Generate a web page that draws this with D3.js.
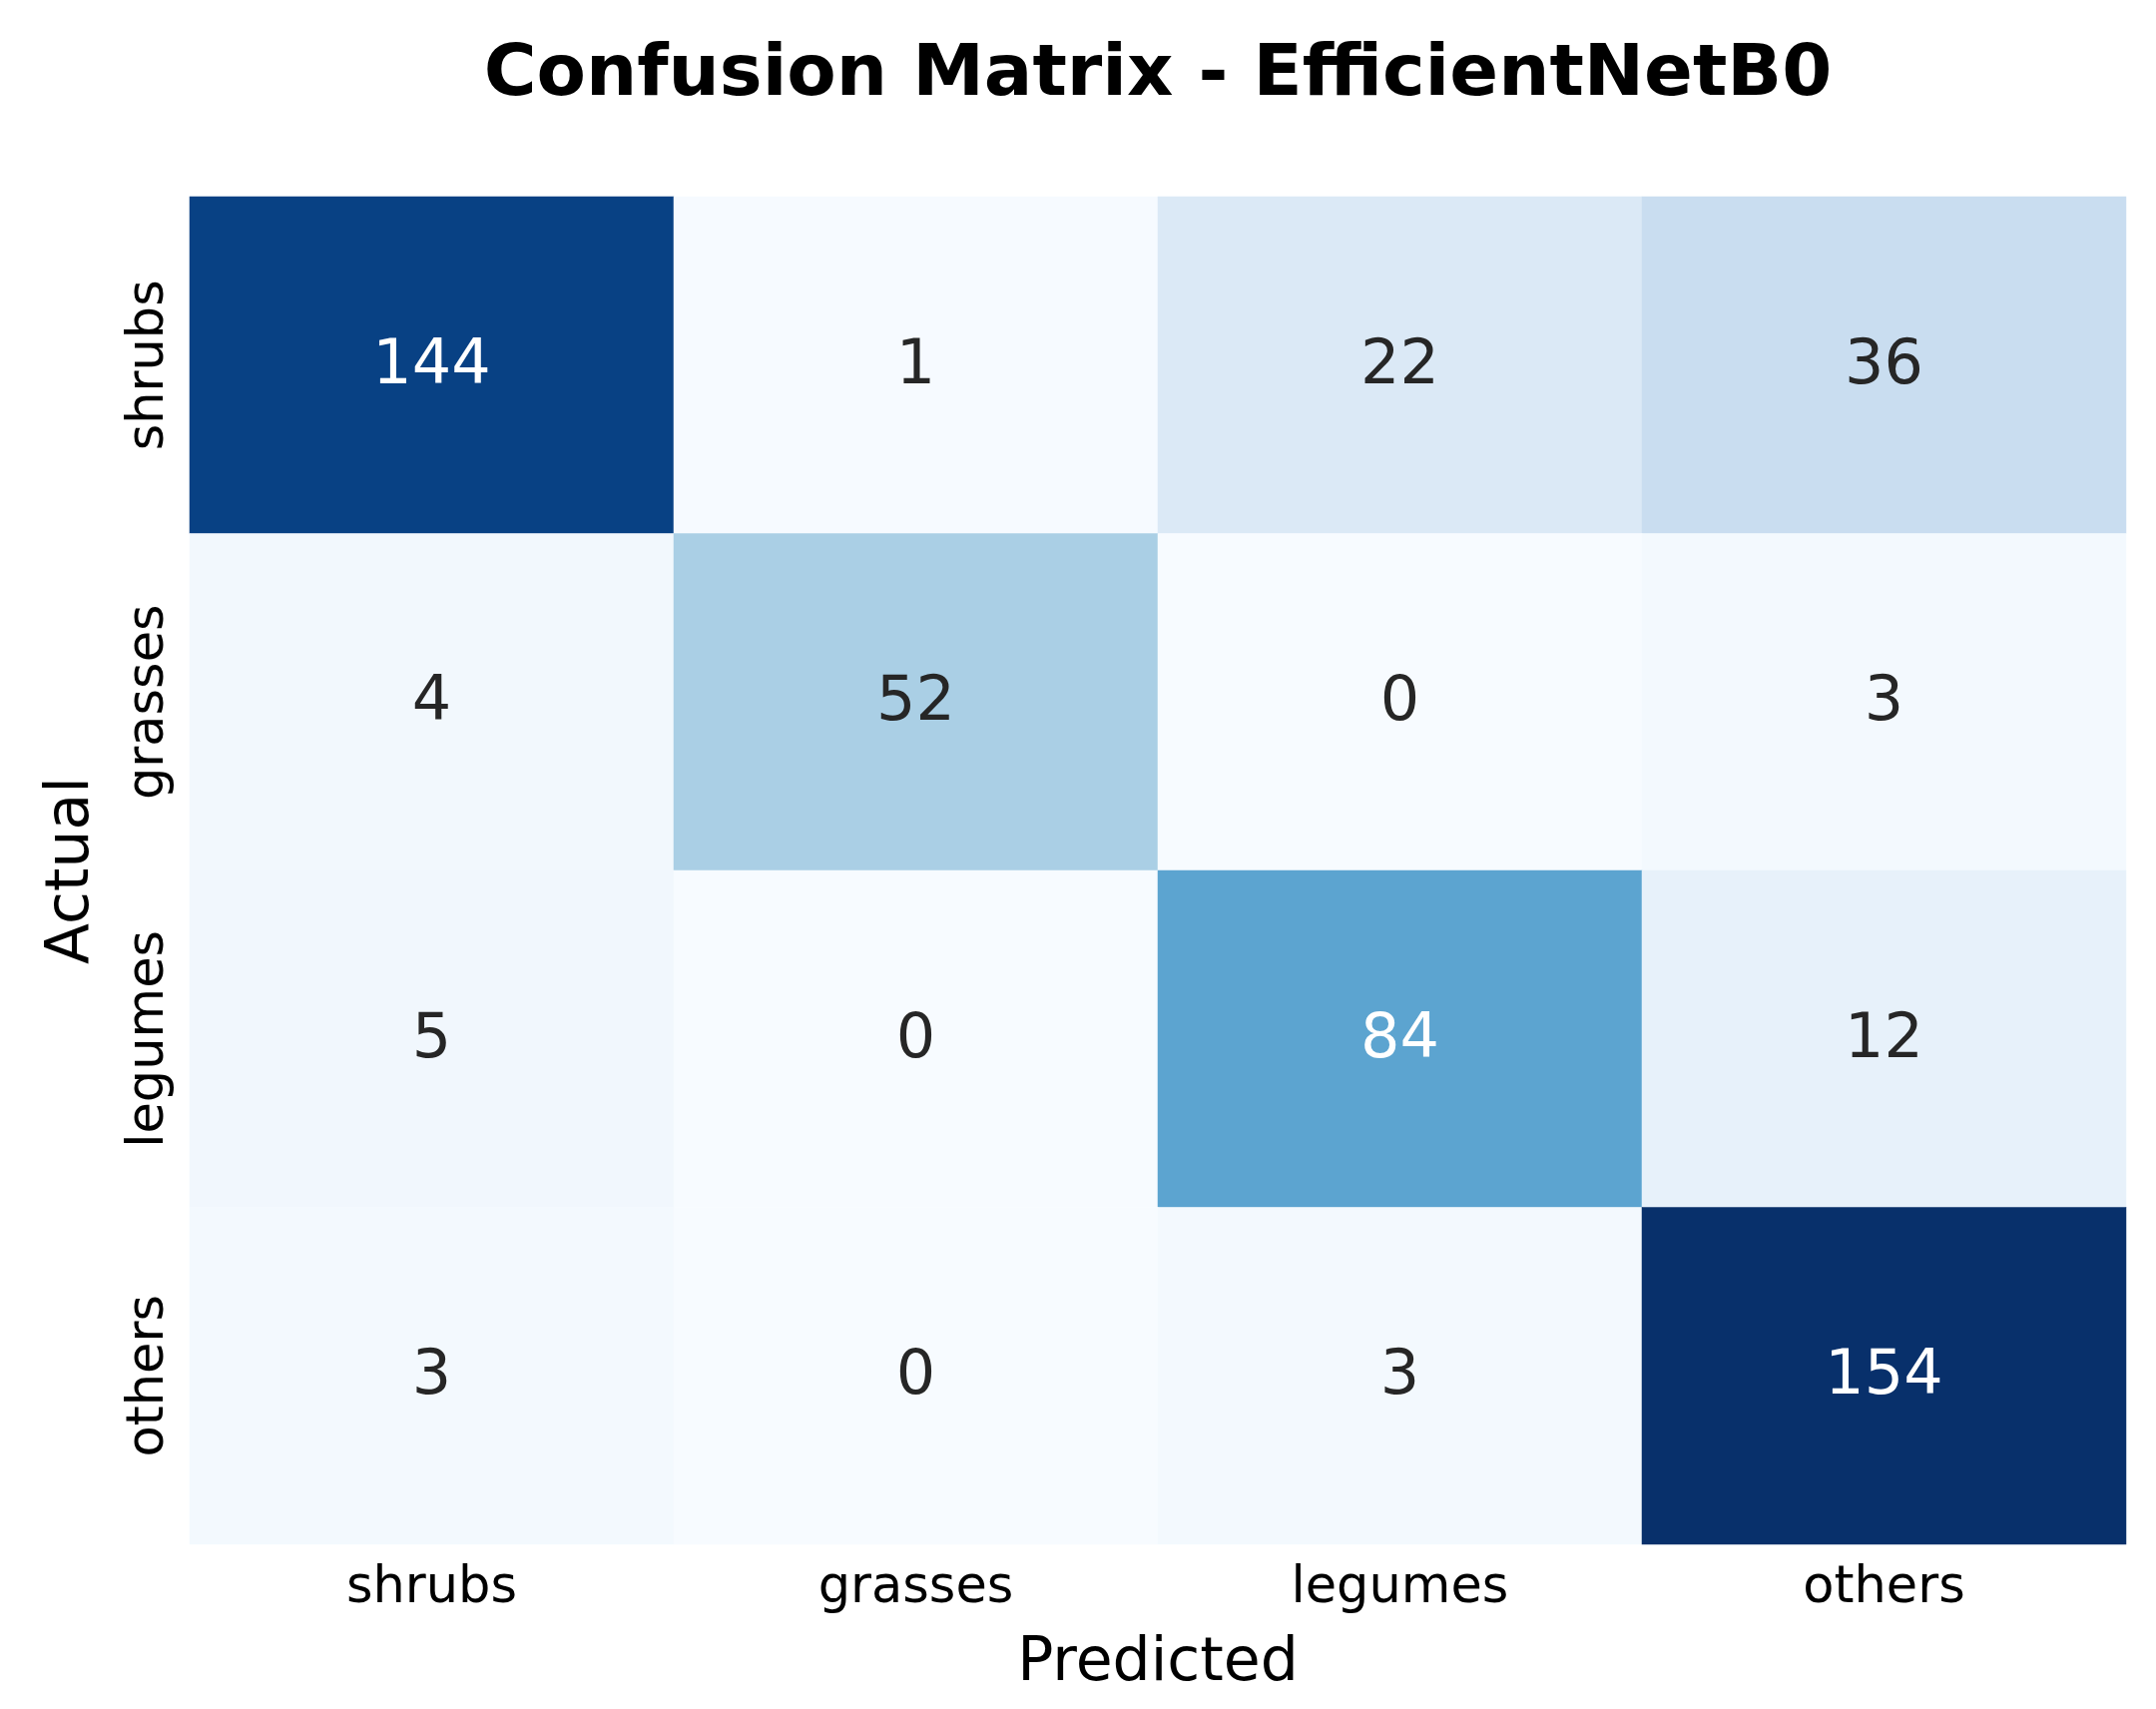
<!DOCTYPE html>
<html>
<head>
<meta charset="utf-8">
<script src="https://cdn.jsdelivr.net/npm/d3@7"></script>
<style>
  body { margin: 0; background: #fff; }
  text { font-family: "DejaVu Sans", sans-serif; }
</style>
</head>
<body>
<svg id="chart" width="2160" height="1712"></svg>
<script>
// confusion matrix values (rows = actual, cols = predicted)
var labels = ["shrubs", "grasses", "legumes", "others"];
var rowShrubs = [144, 1, 22, 36];
var rowGrasses = [4, 52, 0, 3];
var rowLegumes = [5, 0, 84, 12];
var rowOthers = [3, 0, 3, 154];
var matrix = [rowShrubs, rowGrasses, rowLegumes, rowOthers];

// matplotlib "Blues" control colours
var blues = ["#f7fbff", "#deebf7", "#c6dbef", "#9ecae1", "#6baed6",
             "#4292c6", "#2171b5", "#08519c", "#08306b"];

var plotLeft = 190, plotRight = 2130, plotTop = 197, plotBottom = 1547;

var svg = d3.select("#chart");

var x = d3.scaleBand().domain(labels).range([plotLeft, plotRight]).padding(0);
var y = d3.scaleBand().domain(labels).range([plotTop, plotBottom]).padding(0);

var allVals = d3.merge(matrix);
var vmin = d3.min(allVals), vmax = d3.max(allVals);
var color = d3.scaleLinear()
    .domain(blues.map(function (c, i) { return vmin + (vmax - vmin) * i / (blues.length - 1); }))
    .range(blues)
    .interpolate(d3.interpolateRgb);

// seaborn picks annotation colour from luminance
function luminance(c) {
    var rgb = d3.rgb(c);
    var ch = [rgb.r, rgb.g, rgb.b].map(function (v) {
        v = v / 255;
        return v <= 0.03928 ? v / 12.92 : Math.pow((v + 0.055) / 1.055, 2.4);
    });
    return 0.2126 * ch[0] + 0.7152 * ch[1] + 0.0722 * ch[2];
}

var cells = [];
matrix.forEach(function (row, i) {
    row.forEach(function (v, j) {
        cells.push({ actual: labels[i], predicted: labels[j], value: v });
    });
});

/* ------- CELLS -------*/
svg.append("g").selectAll("rect")
    .data(cells)
    .enter().append("rect")
    .attr("x", function (d) { return x(d.predicted); })
    .attr("y", function (d) { return y(d.actual); })
    .attr("width", x.bandwidth())
    .attr("height", y.bandwidth())
    .attr("fill", function (d) { return color(d.value); })
    .attr("stroke", function (d) { return color(d.value); })
    .attr("stroke-width", 0.5);

/* ------- ANNOTATIONS -------*/
svg.append("g").selectAll("text")
    .data(cells)
    .enter().append("text")
    .attr("x", function (d) { return x(d.predicted) + x.bandwidth() / 2; })
    .attr("y", function (d) { return y(d.actual) + y.bandwidth() / 2; })
    .attr("dy", "0.29em")
    .attr("text-anchor", "middle")
    .attr("font-size", 62)
    .attr("fill", function (d) { return luminance(color(d.value)) > 0.408 ? "#262626" : "#ffffff"; })
    .text(function (d) { return d.value; });

/* ------- AXES -------*/
var xAxis = svg.append("g")
    .attr("transform", "translate(0," + plotBottom + ")")
    .call(d3.axisBottom(x).tickSize(0).tickPadding(0));
xAxis.select(".domain").remove();
xAxis.selectAll("text")
    .attr("font-size", 51)
    .attr("font-family", "DejaVu Sans")
    .attr("fill", "#000")
    .attr("y", 0)
    .attr("dy", 58);

var yAxis = svg.append("g")
    .attr("transform", "translate(" + plotLeft + ",0)")
    .call(d3.axisLeft(y).tickSize(0).tickPadding(0));
yAxis.select(".domain").remove();
yAxis.selectAll("text")
    .attr("font-size", 51)
    .attr("font-family", "DejaVu Sans")
    .attr("fill", "#000")
    .attr("x", 0)
    .attr("dy", 0)
    .attr("text-anchor", "middle")
    .attr("transform", "translate(-27,0) rotate(-90)");

svg.append("text")
    .attr("x", (plotLeft + plotRight) / 2)
    .attr("y", 1683)
    .attr("text-anchor", "middle")
    .attr("font-size", 60)
    .attr("fill", "#000")
    .text("Predicted");

svg.append("text")
    .attr("transform", "translate(88," + (plotTop + plotBottom) / 2 + ") rotate(-90)")
    .attr("text-anchor", "middle")
    .attr("font-size", 60)
    .attr("fill", "#000")
    .text("Actual");

svg.append("text")
    .attr("x", (plotLeft + plotRight) / 2)
    .attr("y", 95)
    .attr("text-anchor", "middle")
    .attr("font-size", 72)
    .attr("font-weight", "bold")
    .attr("fill", "#000")
    .text("Confusion Matrix - EfficientNetB0");
</script>
</body>
</html>
